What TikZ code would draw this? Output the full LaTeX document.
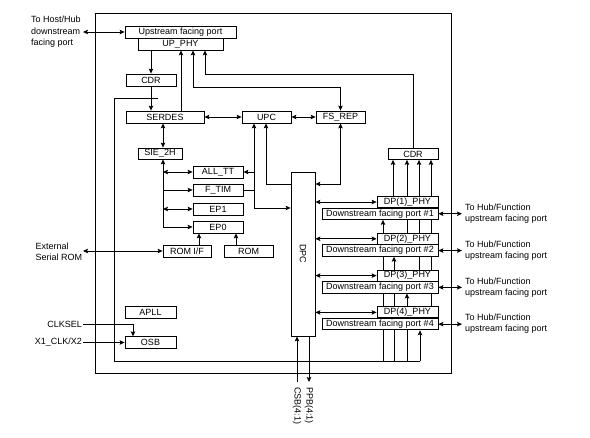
\documentclass[tikz,border=0pt]{standalone}
\usepackage{fontspec}
\setmainfont{Liberation Sans}
\usetikzlibrary{arrows.meta,calc}
\pgfdeclarelayer{bg}
\pgfsetlayers{bg,main}
\begin{document}
\begin{tikzpicture}[x=1pt,y=-1pt,
  font=\fontsize{9}{11.5}\selectfont,
  blk/.style={draw, fill=white, line width=0.8pt, inner sep=0pt, minimum height=12pt},
  ln/.style={line width=0.8pt},
  arr/.style={ln, -{Stealth[length=5pt,width=4.5pt,inset=1pt]}},
  darr/.style={ln, {Stealth[length=5pt,width=4.5pt,inset=1pt]}-{Stealth[length=5pt,width=4.5pt,inset=1pt]}},
  lbl/.style={inner sep=0pt, align=left}]
\useasboundingbox (0,0) rectangle (590,438);
% chip border
\draw[ln] (95,13) rectangle (451,373);
% blocks
\node[blk, minimum width=111pt] (usp) at (180.5,32) {Upstream facing port};
\node[blk, minimum width=85pt] (upphy) at (180.5,44) {UP\_PHY};
\node[blk, minimum width=50pt] (cdru) at (151,80) {CDR};
\node[blk, minimum width=78pt] (serdes) at (165,117) {SERDES};
\node[blk, minimum width=49pt] (upc) at (266.5,117) {UPC};
\node[blk, minimum width=49pt] (fsrep) at (340.5,117) {FS\_REP};
\node[blk, minimum width=44pt, minimum height=11pt] (sie) at (160,153.5) {SIE\_2H};
\node[blk, minimum width=50pt] (alltt) at (218,172) {ALL\_TT};
\node[blk, minimum width=50pt] (ftim) at (218,190) {F\_TIM};
\node[blk, minimum width=50pt] (ep1) at (218,209) {EP1};
\node[blk, minimum width=50pt] (ep0) at (218,227) {EP0};
\node[blk, minimum width=48pt] (romif) at (187,251) {ROM I/F};
\node[blk, minimum width=49pt] (rom) at (248.5,251) {ROM};
\node[blk, minimum width=51pt] (apll) at (150.5,312) {APLL};
\node[blk, minimum width=51pt, minimum height=11.5pt] (osb) at (150.5,342.5) {OSB};
\node[blk, minimum width=24pt, minimum height=164pt] (dpc) at (303,254) {\rotatebox{-90}{DPC}};
\node[blk, minimum width=50pt, minimum height=11pt] (cdrd) at (413,154) {CDR};
\foreach \n in {1,...,4}{
  \pgfmathsetmacro{\T}{196.5+36.8*(\n-1)}
  \node[blk, minimum width=61pt, minimum height=11pt] (dp\n) at (407.5,\T+5.5) {DP(\n)\_PHY};
  \node[blk, minimum width=116pt, minimum height=11.5pt] (port\n) at (380,\T+17.25) {Downstream facing port \#\n};
  \coordinate (ext\n) at (462,\T+17.25);
  \draw[darr] (port\n.east) -- (ext\n);
  \node[lbl, anchor=west] (extl\n) at (465,\T+17.25) {To Hub/Function\\[-0.5pt]upstream facing port};
  \draw[darr] (dpc.east |- dp\n.west) -- (dp\n.west);
}
% lines passing behind the port blocks
\begin{pgfonlayer}{bg}
\foreach \n/\xx in {1/393,2/407,3/419,4/431}{
  \coordinate (u\n) at (\xx,0);
  \draw[arr] (dp\n.north -| u\n) -- (cdrd.south -| u\n);
}
\coordinate (jn) at ($(cdru.south)!0.5!(serdes.north)$);
\coordinate (bl) at (114,361);
\coordinate (br) at (420,361);
\draw[ln] (jn) -| (bl) -- (br);
\foreach \n/\xx in {1/383,2/394,3/407,4/420}{
  \coordinate (b\n) at (\xx,361);
  \draw[arr] (b\n) -- (port\n.south -| b\n);
}
\end{pgfonlayer}
% upstream side
\coordinate (host) at (83,32);
\draw[darr] (host) -- (usp.west);
\node[lbl, anchor=west] (hostl) at (31,32) {To Host/Hub\\downstream\\facing port};
\draw[arr] (upphy.south -| cdru) -- (cdru.north);
\draw[arr] (cdru.south) -- (serdes.north -| cdru);
\coordinate (s1) at (181,0);
\draw[arr] (serdes.north -| s1) -- (upphy.south -| s1);
\coordinate (f1) at (193,87);
\draw[darr] (fsrep.north) |- (f1) -- (upphy.south -| f1);
\coordinate (c1) at (205,74);
\draw[arr] (cdrd.north) |- (c1) -- (upphy.south -| c1);
\draw[darr] (serdes.east) -- (upc.west);
\draw[darr] (upc.east) -- (fsrep.west);
% SIE tree
\coordinate (sie1) at (163,0);
\draw[darr] (serdes.south -| sie1) -- (sie.north -| sie1);
\draw[arr] (ep0.west -| sie1) -- (sie.south -| sie1);
\draw[darr] (alltt.west -| sie1) -- (alltt.west);
\draw[arr] (ftim.west -| sie1) -- (ftim.west);
\draw[darr] (ep1.west -| sie1) -- (ep1.west);
\draw[arr] (ep0.west -| sie1) -- (ep0.west);
% ROM
\coordinate (r1) at (199,0);
\coordinate (r2) at (236,0);
\draw[arr] (romif.north -| r1) -- (ep0.south -| r1);
\draw[arr] (rom.north -| r2) -- (ep0.south -| r2);
\coordinate (xr) at (83,251);
\draw[darr] (xr) -- (romif.west);
\node[lbl, anchor=west] (xrl) at (35.5,252) {External\\Serial ROM};
% UPC / DPC / FS_REP
\coordinate (v1) at (254,0);
\coordinate (v2) at (266,0);
\coordinate (y208) at (0,208);
\coordinate (y184) at (0,184);
\draw[darr] (upc.south -| v1) |- (dpc.west |- y208);
\draw[arr] (alltt.east -| v1) -- (alltt.east);
\draw[ln] (ftim.east) -- (ftim.east -| v1);
\draw[arr] (dpc.west |- y184) -| (upc.south -| v2);
\draw[darr] (fsrep.south) |- (dpc.east |- y184);
% CSB / PPB
\coordinate (csb) at (297,382);
\coordinate (ppb) at (309,382);
\draw[arr] (csb) -- (dpc.south -| csb);
\draw[arr] (dpc.south -| ppb) -- (ppb);
\node[rotate=-90, anchor=west, inner sep=0pt] (csbl) at (297,387) {CSB(4:1)};
\node[rotate=-90, anchor=west, inner sep=0pt] (ppbl) at (309,387) {PPB(4:1)};
% clocks
\coordinate (ck) at (83,324);
\coordinate (ck2) at (133,324);
\draw[arr] (ck) -- (ck2) -- (osb.north -| ck2);
\node[anchor=east, inner sep=0pt] (ckl) at (82,324) {CLKSEL};
\coordinate (x1) at (83,342.5);
\draw[arr] (x1) -- (osb.west);
\node[anchor=east, inner sep=0pt] (x1l) at (82,342.5) {X1\_CLK/X2};
\end{tikzpicture}
\end{document}
